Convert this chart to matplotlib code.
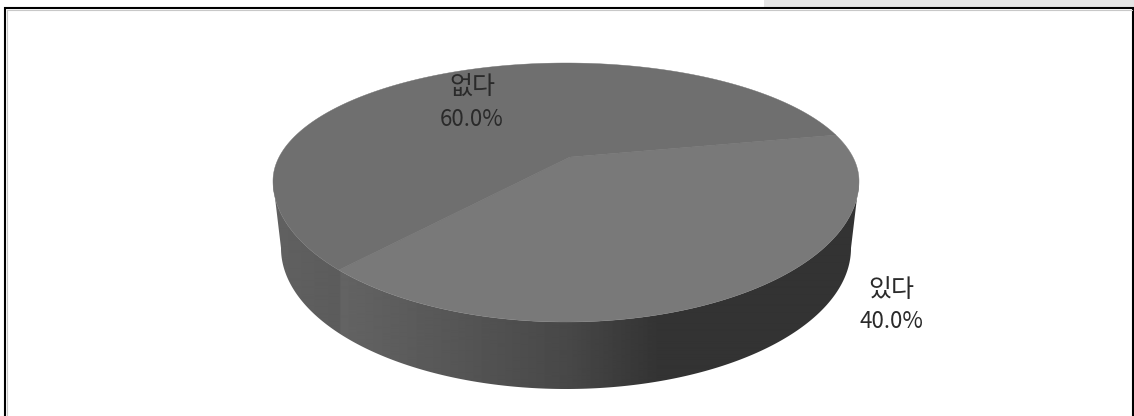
import numpy as np
import matplotlib
matplotlib.use("Agg")
import matplotlib.pyplot as plt
from matplotlib.patches import Polygon, Rectangle

plt.rcParams['font.family'] = ['Noto Sans CJK KR', 'DejaVu Sans']

labels = ["있다", "없다"]
shares = [40.0, 60.0]
topColors = ["#797979", "#6f6f6f"]
labelPos = [(891, 303), (472, 101)]

# shade of the pie wall, darker towards the right
wallX = [272, 339, 341, 450, 570, 660, 860]
wallGrey = [0.38, 0.36, 0.39, 0.34, 0.28, 0.20, 0.20]

W, H = 1134, 416
startAngle = 11.7
tilt = 0.203


def project(u, v, rx=293.0, shiftY=0.0):
    # unit disc seen in perspective, near half is drawn taller than the far half
    w = 1 + tilt * v
    xn = u * np.sqrt(1 - tilt ** 2) / w
    yn = (v + tilt) / w
    x = 566 + rx * xn + 4 * (1 - xn ** 2 - yn ** 2)
    y = 181 - np.where(yn > 0, 118, 141) * yn + shiftY
    return x, y


def rim(theta, rx=293.0, shiftY=0.0):
    return project(np.cos(np.radians(theta)), np.sin(np.radians(theta)), rx, shiftY)


fig = plt.figure(figsize=(W / 100, H / 100), dpi=100)
ax = fig.add_axes([0, 0, 1, 1])
ax.set_xlim(0, W)
ax.set_ylim(H, 0)
ax.axis("off")

# strip above the frame, frame has no bottom edge
ax.add_patch(Rectangle((764, 0), W - 764, 7, fc="#e4e4e4", ec="none"))
ax.plot([5, 5, 1133, 1133], [H, 8, 8, H], color="black", lw=1.5, solid_joinstyle="miter")
ax.plot([7, 7], [H, 10], color="#c8c8c8", lw=0.8)
ax.plot([7, 1132], [10, 10], color="#c8c8c8", lw=0.8)

# wall: horizontal gradient clipped to the band between top rim and bottom rim
front = np.linspace(180 + 11.7, 360 - 11.7, 300)
xt, yt = rim(front)
xb, yb = rim(front[::-1], rx=285.0, shiftY=67)
wall = Polygon(np.r_[np.c_[xt, yt], np.c_[xb, yb]], fc="none", ec="none")
ax.add_patch(wall)
columns = np.arange(260, 870)
shade = np.interp(columns, wallX, wallGrey).reshape(1, -1)
im = ax.imshow(shade, cmap="gray", vmin=0, vmax=1, aspect="auto",
               extent=(260, 870, 400, 170), interpolation="bilinear")
im.set_clip_path(wall)
ax.set_xlim(0, W)
ax.set_ylim(H, 0)

# top face, slices run clockwise from the start angle
angle = startAngle
for share, color in zip(shares, topColors):
    sweep = 360 * share / sum(shares)
    xs, ys = rim(np.linspace(angle, angle - sweep, 300))
    cx, cy = project(0.0, 0.0)
    ax.add_patch(Polygon(np.r_[[[float(cx), float(cy)]], np.c_[xs, ys]], fc=color, ec=color, lw=0.3))
    angle -= sweep

for name, share, (x, y) in zip(labels, shares, labelPos):
    ax.text(x, y - 13, name, ha="center", va="center", fontsize=18, color="#2a2a2a")
    ax.text(x, y + 19, "%.1f%%" % share, ha="center", va="center", fontsize=16, color="#2a2a2a")

fig.savefig("out.png", dpi=100)
